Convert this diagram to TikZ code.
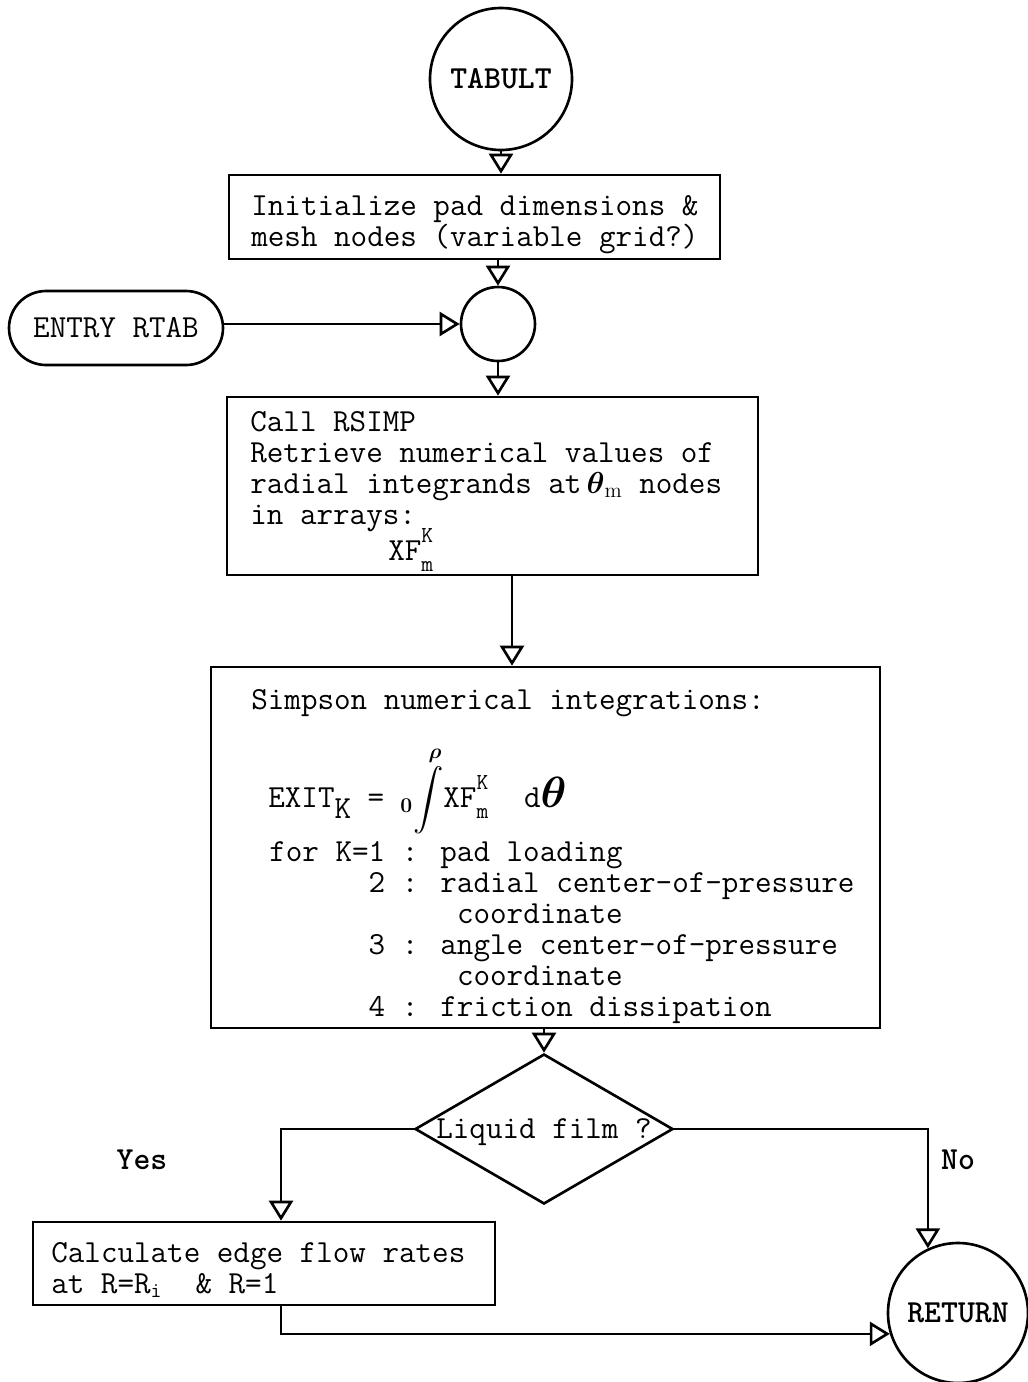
\documentclass[tikz,border=0pt]{standalone}
\usepackage{amsmath}
\usetikzlibrary{arrows.meta,shapes.geometric}
\newcommand\idx[2]{\rlap{\raisebox{.55em}{\fontsize{13}{13}\selectfont#1}}\raisebox{-.35em}{\fontsize{13}{13}\selectfont#2}}
\begin{document}
\begin{tikzpicture}[line width=1.5pt,
  every node/.style={inner sep=0,font=\ttfamily\fontsize{18.3}{17.6}\selectfont},
  blk/.style={draw},
  txt/.style={anchor=west,align=left},
  term/.style={circle,draw,font=\ttfamily\bfseries\fontsize{18.3}{17.6}\selectfont},
  lbl/.style={font=\ttfamily\bfseries\fontsize{18.3}{17.6}\selectfont},
  flow/.style={-{Triangle[open,length=.4cm,width=.48cm]}}]
\fill[white] (0,0) rectangle (20.56,-27.64);
\useasboundingbox (0,0) rectangle (20.56,-27.64);
\node[term,minimum size=2.84cm] (tabult) at (10.02,-1.58) {TABULT};
\node[blk,minimum width=9.82cm,minimum height=1.68cm] (init) at (9.49,-4.34) {};
\node[txt] (init-t) at (5.0,-4.49) {Initialize pad dimensions \&\\mesh nodes (variable grid?)};
\node[circle,draw,minimum size=1.48cm] (junc) at (9.96,-6.48) {};
\node[draw,rounded corners=.74cm,minimum width=4.28cm,minimum height=1.48cm] (entry) at (2.32,-6.56) {ENTRY RTAB};
\node[blk,minimum width=10.62cm,minimum height=3.56cm] (call) at (9.85,-9.72) {};
\node[txt] (call-t) at (4.98,-9.43) {Call RSIMP\\Retrieve numerical values of\\radial integrands at$\,\boldsymbol\theta_{\mathrm m}$ nodes\\in arrays:};
\node[txt] (xf) at (7.74,-11.0) {XF\idx{K}{m}};
\node[blk,minimum width=13.38cm,minimum height=7.22cm] (simp) at (10.91,-16.95) {};
\node[txt] (simp-t) at (5.0,-14.06) {Simpson numerical integrations:};
\node[txt] (exit) at (5.34,-15.8) {EXIT\raisebox{-.35em}{K} =\hspace{.5em}$\displaystyle{}_{\mathbf 0}\!\int\limits^{\boldsymbol\rho}$XF\idx{K}{m}\hspace{.6em} d{\fontsize{24}{24}\selectfont$\boldsymbol\theta$}};
\node[txt] (cases) at (5.36,-18.65) {for K=1 : pad loading\\
  \phantom{for K=}2 : radial center-of-pressure\\
  \phantom{for K=1 : x}coordinate\\
  \phantom{for K=}3 : angle center-of-pressure\\
  \phantom{for K=1 : x}coordinate\\
  \phantom{for K=}4 : friction dissipation};
\node[diamond,draw,minimum width=5.16cm,minimum height=3.0cm] (liq) at (10.88,-22.58) {};
\node (liq-t) at ([yshift=-.06cm]liq) {Liquid film ?};
\node[lbl] (yes) at (2.84,-23.2) {Yes};
\node[lbl] (no) at (19.16,-23.2) {No};
\node[blk,minimum width=9.24cm,minimum height=1.66cm] (calc) at (5.28,-25.27) {};
\node[txt] (calc-t) at (1.0,-25.4) {Calculate edge flow rates\\at R=R$_{\mathtt i}$\ \ \& R=1};
\node[term,minimum size=2.8cm] (ret) at (19.16,-26.26) {RETURN};
\draw[flow] (tabult.south) -- (tabult.south |- init.north);
\draw[flow] (junc |- init.south) -- (junc.north);
\draw[flow] (entry.east |- junc.west) -- (junc.west);
\draw[flow] (junc.south) -- (junc.south |- call.north);
\draw[flow] ([xshift=.39cm]call.south) -- ([xshift=.39cm]call.south |- simp.north);
\draw[flow] (liq.north |- simp.south) -- (liq.north);
\draw[flow] (liq.west) -| ([xshift=.34cm]calc.north);
\draw[flow] (liq.east) -| (ret.115);
\draw[flow] ([xshift=.34cm]calc.south) |- (ret.197);
\end{tikzpicture}
\end{document}
